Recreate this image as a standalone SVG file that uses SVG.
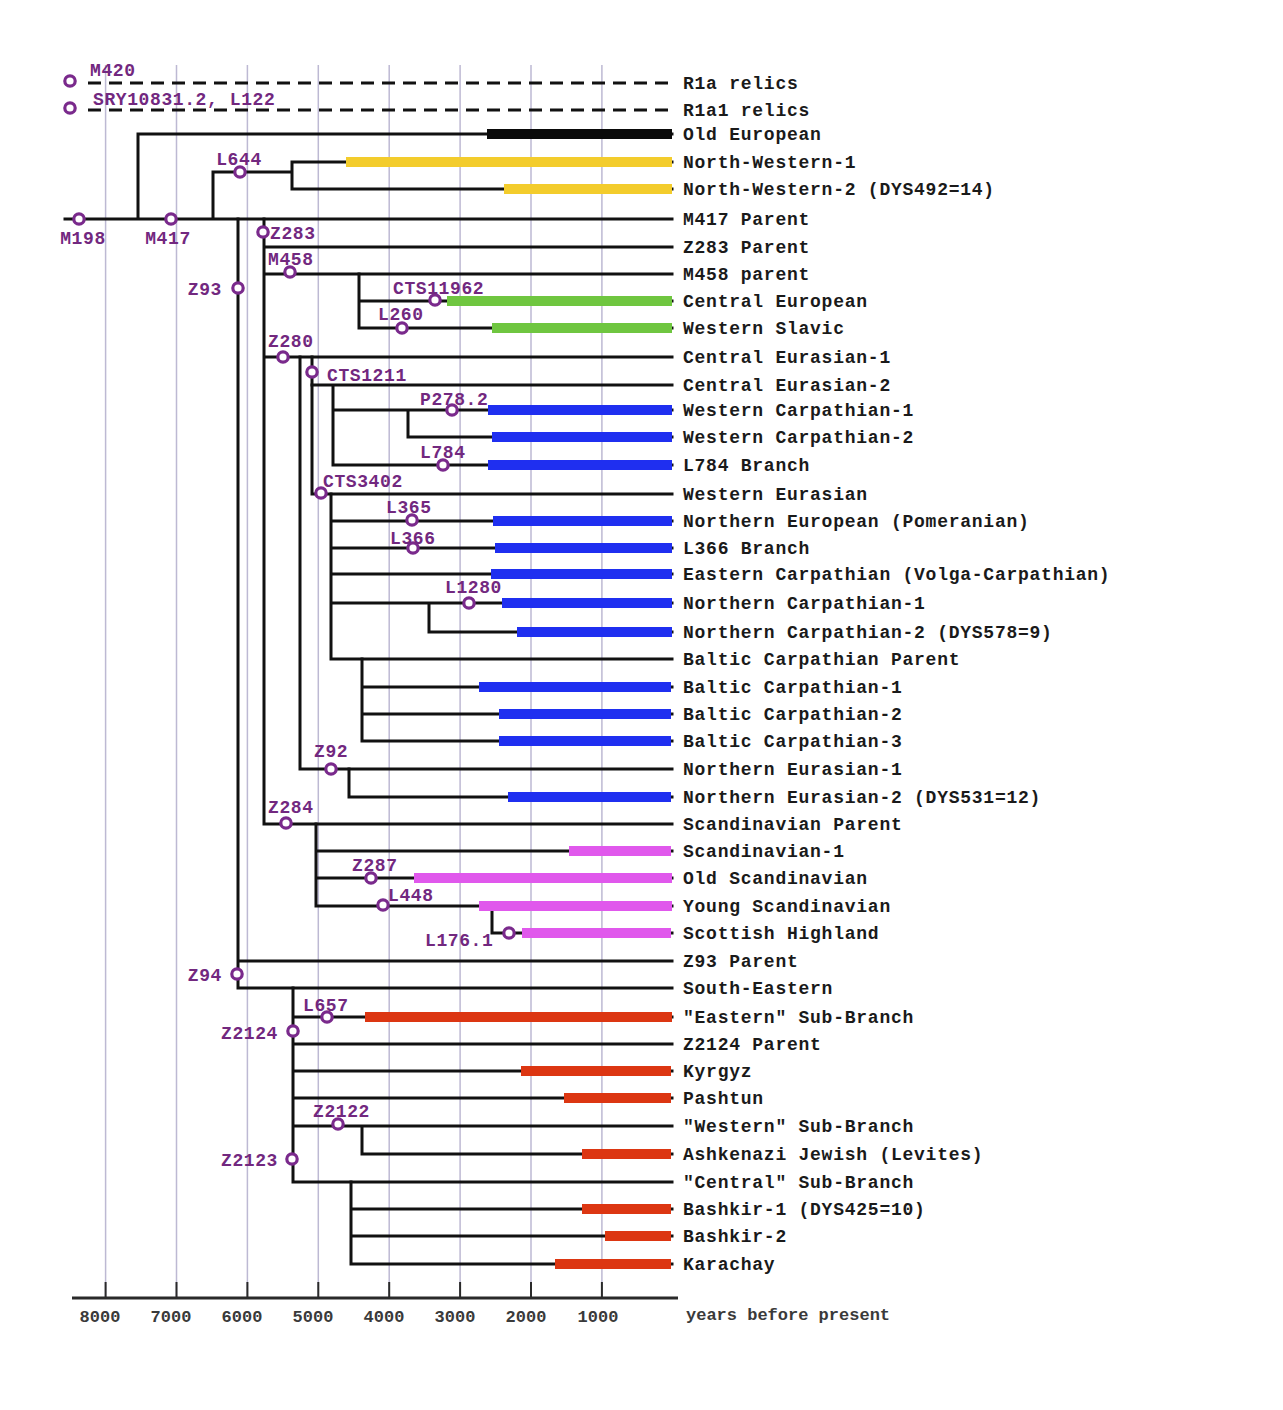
<svg xmlns="http://www.w3.org/2000/svg" width="1283" height="1410" viewBox="0 0 1283 1410">
<style>
.grid line{stroke:#bdb9d3;stroke-width:1.5}
.ln{fill:none;stroke:#111;stroke-width:3;stroke-linejoin:miter;stroke-linecap:square}
.dash{fill:none;stroke:#111;stroke-width:3;stroke-dasharray:13 8}
.bar{stroke-width:10;stroke-linecap:butt}
.k{stroke:#0a0a0a}.y{stroke:#f3cc2c}.g{stroke:#6fc640}.b{stroke:#1f2ff0}.m{stroke:#e058ec}.r{stroke:#dc3612}
.lbl{font-family:"Courier New","Liberation Mono",monospace;font-weight:bold;font-size:18px;letter-spacing:0.75px;fill:#1a1a1a}
.snp circle{fill:#fff;stroke:#7a2a8c;stroke-width:3.2}
.snp text{font-family:"Courier New","Liberation Mono",monospace;font-weight:bold;font-size:18px;letter-spacing:0.6px;fill:#72287f}
.ax text{font-family:"Liberation Mono",monospace;font-weight:bold;font-size:17px;fill:#3a3a3a}
</style>
<rect width="1283" height="1410" fill="#fff"/>
<g class="grid">
<line x1="105.6" y1="65" x2="105.6" y2="1298"/>
<line x1="176.5" y1="65" x2="176.5" y2="1298"/>
<line x1="247.4" y1="65" x2="247.4" y2="1298"/>
<line x1="318.3" y1="65" x2="318.3" y2="1298"/>
<line x1="389.2" y1="65" x2="389.2" y2="1298"/>
<line x1="460.1" y1="65" x2="460.1" y2="1298"/>
<line x1="531" y1="65" x2="531" y2="1298"/>
<line x1="601.9" y1="65" x2="601.9" y2="1298"/>
</g>
<g id="connectors">
<path class="dash" d="M88,83 H672 M88,110 H672"/>
<path class="ln" d="M65,219 H672 M138,219 V134 H672 M213,219 V172 H292 M292,162 V189 M292,162 H672 M292,189 H672"/>
<path class="ln" d="M238,219 V988 H672 M238,961 H672"/>
<path class="ln" d="M264,219 V824 H672 M264,247 H672 M264,274 H672 M264,357 H672"/>
<path class="ln" d="M359,274 V328 M359,301 H672 M359,328 H672"/>
<path class="ln" d="M300,357 V769 H672 M312,357 V494 H672"/>
<path class="ln" d="M312,385 H672 M333,385 V465 M333,410 H672 M408,410 V437 H672 M333,465 H672"/>
<path class="ln" d="M331,494 V659 H672 M331,521 H672 M331,548 H672 M331,574 H672 M331,603 H672 M429,603 V632 H672"/>
<path class="ln" d="M362,659 V741 M362,687 H672 M362,714 H672 M362,741 H672"/>
<path class="ln" d="M349,769 V797 H672"/>
<path class="ln" d="M316,824 V906 M316,851 H672 M316,878 H672 M316,906 H672 M492,906 V933 H672"/>
<path class="ln" d="M293,988 V1182 M293,1017 H672 M293,1044 H672 M293,1071 H672 M293,1098 H672 M293,1126 H672 M362,1126 V1154 H672 M293,1182 H672"/>
<path class="ln" d="M351,1182 V1264 M351,1209 H672 M351,1236 H672 M351,1264 H672"/>
</g>
<g id="terminals">
<g id="t-r1a"><text class="lbl" x="683" y="89">R1a relics</text></g>
<g id="t-r1a1"><text class="lbl" x="683" y="116">R1a1 relics</text></g>
<g id="t-oldeu"><line class="bar k" x1="487" y1="134" x2="672" y2="134"/><text class="lbl" x="683" y="140">Old European</text></g>
<g id="t-nw1"><line class="bar y" x1="346" y1="162" x2="672" y2="162"/><text class="lbl" x="683" y="168">North-Western-1</text></g>
<g id="t-nw2"><line class="bar y" x1="504" y1="189" x2="672" y2="189"/><text class="lbl" x="683" y="195">North-Western-2 (DYS492=14)</text></g>
<g id="t-m417p"><text class="lbl" x="683" y="225">M417 Parent</text></g>
<g id="t-z283p"><text class="lbl" x="683" y="253">Z283 Parent</text></g>
<g id="t-m458p"><text class="lbl" x="683" y="280">M458 parent</text></g>
<g id="t-ceu"><line class="bar g" x1="447" y1="301" x2="672" y2="301"/><text class="lbl" x="683" y="307">Central European</text></g>
<g id="t-wsl"><line class="bar g" x1="492" y1="328" x2="672" y2="328"/><text class="lbl" x="683" y="334">Western Slavic</text></g>
<g id="t-cea1"><text class="lbl" x="683" y="363">Central Eurasian-1</text></g>
<g id="t-cea2"><text class="lbl" x="683" y="391">Central Eurasian-2</text></g>
<g id="t-wc1"><line class="bar b" x1="488" y1="410" x2="672" y2="410"/><text class="lbl" x="683" y="416">Western Carpathian-1</text></g>
<g id="t-wc2"><line class="bar b" x1="492" y1="437" x2="672" y2="437"/><text class="lbl" x="683" y="443">Western Carpathian-2</text></g>
<g id="t-l784"><line class="bar b" x1="488" y1="465" x2="672" y2="465"/><text class="lbl" x="683" y="471">L784 Branch</text></g>
<g id="t-weu"><text class="lbl" x="683" y="500">Western Eurasian</text></g>
<g id="t-neu"><line class="bar b" x1="493" y1="521" x2="672" y2="521"/><text class="lbl" x="683" y="527">Northern European (Pomeranian)</text></g>
<g id="t-l366"><line class="bar b" x1="495" y1="548" x2="672" y2="548"/><text class="lbl" x="683" y="554">L366 Branch</text></g>
<g id="t-ec"><line class="bar b" x1="491" y1="574" x2="672" y2="574"/><text class="lbl" x="683" y="580">Eastern Carpathian (Volga-Carpathian)</text></g>
<g id="t-nc1"><line class="bar b" x1="502" y1="603" x2="672" y2="603"/><text class="lbl" x="683" y="609">Northern Carpathian-1</text></g>
<g id="t-nc2"><line class="bar b" x1="517" y1="632" x2="672" y2="632"/><text class="lbl" x="683" y="638">Northern Carpathian-2 (DYS578=9)</text></g>
<g id="t-bcp"><text class="lbl" x="683" y="665">Baltic Carpathian Parent</text></g>
<g id="t-bc1"><line class="bar b" x1="479" y1="687" x2="671" y2="687"/><text class="lbl" x="683" y="693">Baltic Carpathian-1</text></g>
<g id="t-bc2"><line class="bar b" x1="499" y1="714" x2="671" y2="714"/><text class="lbl" x="683" y="720">Baltic Carpathian-2</text></g>
<g id="t-bc3"><line class="bar b" x1="499" y1="741" x2="671" y2="741"/><text class="lbl" x="683" y="747">Baltic Carpathian-3</text></g>
<g id="t-nea1"><text class="lbl" x="683" y="775">Northern Eurasian-1</text></g>
<g id="t-nea2"><line class="bar b" x1="508" y1="797" x2="671" y2="797"/><text class="lbl" x="683" y="803">Northern Eurasian-2 (DYS531=12)</text></g>
<g id="t-scp"><text class="lbl" x="683" y="830">Scandinavian Parent</text></g>
<g id="t-sc1"><line class="bar m" x1="569" y1="851" x2="671" y2="851"/><text class="lbl" x="683" y="857">Scandinavian-1</text></g>
<g id="t-osc"><line class="bar m" x1="414" y1="878" x2="672" y2="878"/><text class="lbl" x="683" y="884">Old Scandinavian</text></g>
<g id="t-ysc"><line class="bar m" x1="479" y1="906" x2="672" y2="906"/><text class="lbl" x="683" y="912">Young Scandinavian</text></g>
<g id="t-sch"><line class="bar m" x1="522" y1="933" x2="671" y2="933"/><text class="lbl" x="683" y="939">Scottish Highland</text></g>
<g id="t-z93p"><text class="lbl" x="683" y="967">Z93 Parent</text></g>
<g id="t-se"><text class="lbl" x="683" y="994">South-Eastern</text></g>
<g id="t-east"><line class="bar r" x1="365" y1="1017" x2="672" y2="1017"/><text class="lbl" x="683" y="1023">"Eastern" Sub-Branch</text></g>
<g id="t-z2124p"><text class="lbl" x="683" y="1050">Z2124 Parent</text></g>
<g id="t-kyr"><line class="bar r" x1="521" y1="1071" x2="671" y2="1071"/><text class="lbl" x="683" y="1077">Kyrgyz</text></g>
<g id="t-pash"><line class="bar r" x1="564" y1="1098" x2="671" y2="1098"/><text class="lbl" x="683" y="1104">Pashtun</text></g>
<g id="t-west"><text class="lbl" x="683" y="1132">"Western" Sub-Branch</text></g>
<g id="t-ashk"><line class="bar r" x1="582" y1="1154" x2="671" y2="1154"/><text class="lbl" x="683" y="1160">Ashkenazi Jewish (Levites)</text></g>
<g id="t-cent"><text class="lbl" x="683" y="1188">"Central" Sub-Branch</text></g>
<g id="t-b1"><line class="bar r" x1="582" y1="1209" x2="671" y2="1209"/><text class="lbl" x="683" y="1215">Bashkir-1 (DYS425=10)</text></g>
<g id="t-b2"><line class="bar r" x1="605" y1="1236" x2="671" y2="1236"/><text class="lbl" x="683" y="1242">Bashkir-2</text></g>
<g id="t-kar"><line class="bar r" x1="555" y1="1264" x2="671" y2="1264"/><text class="lbl" x="683" y="1270">Karachay</text></g>
</g>
<g id="snps">
<g class="snp" id="s-m420"><circle cx="70" cy="81" r="5.2"/><text x="90" y="76">M420</text></g>
<g class="snp" id="s-sry"><circle cx="70" cy="108" r="5.2"/><text x="93" y="105">SRY10831.2, L122</text></g>
<g class="snp" id="s-m198"><circle cx="79" cy="219" r="5.2"/><text x="83" y="244" text-anchor="middle">M198</text></g>
<g class="snp" id="s-m417"><circle cx="171" cy="219" r="5.2"/><text x="168" y="244" text-anchor="middle">M417</text></g>
<g class="snp" id="s-l644"><circle cx="240" cy="172" r="5.2"/><text x="239" y="165" text-anchor="middle">L644</text></g>
<g class="snp" id="s-z283"><circle cx="263" cy="232" r="5.2"/><text x="270" y="239">Z283</text></g>
<g class="snp" id="s-z93"><circle cx="238" cy="288" r="5.2"/><text x="222" y="295" text-anchor="end">Z93</text></g>
<g class="snp" id="s-m458"><circle cx="290" cy="272" r="5.2"/><text x="268" y="265">M458</text></g>
<g class="snp" id="s-cts11962"><circle cx="435" cy="300" r="5.2"/><text x="393" y="294">CTS11962</text></g>
<g class="snp" id="s-l260"><circle cx="402" cy="328" r="5.2"/><text x="378" y="320">L260</text></g>
<g class="snp" id="s-z280"><circle cx="283" cy="357" r="5.2"/><text x="268" y="347">Z280</text></g>
<g class="snp" id="s-cts1211"><circle cx="312" cy="372" r="5.2"/><text x="327" y="381">CTS1211</text></g>
<g class="snp" id="s-p278"><circle cx="452" cy="410" r="5.2"/><text x="420" y="405">P278.2</text></g>
<g class="snp" id="s-l784"><circle cx="443" cy="465" r="5.2"/><text x="420" y="458">L784</text></g>
<g class="snp" id="s-cts3402"><circle cx="321" cy="493" r="5.2"/><text x="323" y="487">CTS3402</text></g>
<g class="snp" id="s-l365"><circle cx="412" cy="520" r="5.2"/><text x="386" y="513">L365</text></g>
<g class="snp" id="s-l366"><circle cx="413" cy="548" r="5.2"/><text x="390" y="544">L366</text></g>
<g class="snp" id="s-l1280"><circle cx="469" cy="603" r="5.2"/><text x="445" y="593">L1280</text></g>
<g class="snp" id="s-z92"><circle cx="331" cy="769" r="5.2"/><text x="314" y="757">Z92</text></g>
<g class="snp" id="s-z284"><circle cx="286" cy="823" r="5.2"/><text x="268" y="813">Z284</text></g>
<g class="snp" id="s-z287"><circle cx="371" cy="878" r="5.2"/><text x="352" y="871">Z287</text></g>
<g class="snp" id="s-l448"><circle cx="383" cy="905" r="5.2"/><text x="388" y="901">L448</text></g>
<g class="snp" id="s-l176"><circle cx="509" cy="933" r="5.2"/><text x="425" y="946">L176.1</text></g>
<g class="snp" id="s-z94"><circle cx="237" cy="974" r="5.2"/><text x="222" y="981" text-anchor="end">Z94</text></g>
<g class="snp" id="s-l657"><circle cx="327" cy="1017" r="5.2"/><text x="303" y="1011">L657</text></g>
<g class="snp" id="s-z2124"><circle cx="293" cy="1031" r="5.2"/><text x="278" y="1039" text-anchor="end">Z2124</text></g>
<g class="snp" id="s-z2122"><circle cx="338" cy="1124" r="5.2"/><text x="313" y="1117">Z2122</text></g>
<g class="snp" id="s-z2123"><circle cx="292" cy="1159" r="5.2"/><text x="278" y="1166" text-anchor="end">Z2123</text></g>
</g>
<g class="ax" id="axis">
<path d="M72,1298 H678" stroke="#2a2a2a" stroke-width="3" fill="none"/>
<path d="M105.6,1282 V1298 M176.5,1282 V1298 M247.4,1282 V1298 M318.3,1282 V1298 M389.2,1282 V1298 M460.1,1282 V1298 M531,1282 V1298 M601.9,1282 V1298" stroke="#2a2a2a" stroke-width="2" fill="none"/>
<text x="100" y="1322" text-anchor="middle">8000</text>
<text x="171" y="1322" text-anchor="middle">7000</text>
<text x="242" y="1322" text-anchor="middle">6000</text>
<text x="313" y="1322" text-anchor="middle">5000</text>
<text x="384" y="1322" text-anchor="middle">4000</text>
<text x="455" y="1322" text-anchor="middle">3000</text>
<text x="526" y="1322" text-anchor="middle">2000</text>
<text x="598" y="1322" text-anchor="middle">1000</text>
<text x="686" y="1320">years before present</text>
</g>
</svg>
